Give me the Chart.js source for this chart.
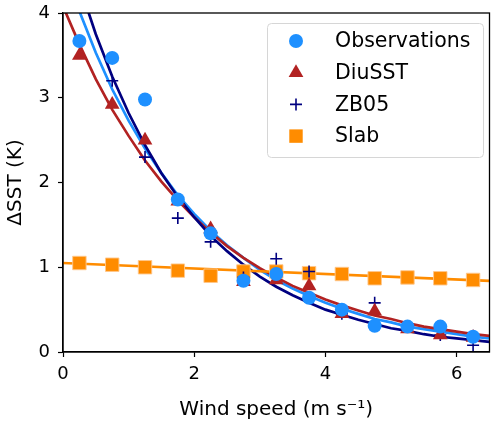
<!DOCTYPE html>
<html>
<head>
<meta charset="utf-8">
<script src="https://cdn.jsdelivr.net/npm/chart.js@4.4.1/dist/chart.umd.min.js"></script>
<style>
  html, body { margin: 0; padding: 0; background: #fff; }
  #wrap { width: 500px; height: 426px; position: relative; }
</style>
</head>
<body>
<div id="wrap"><canvas id="chartSst"></canvas></div>
<script>
  // wind speed bins (m s-1)
  const windBins = [0.25, 0.75, 1.25, 1.75, 2.25, 2.75, 3.25, 3.75, 4.25, 4.75, 5.25, 5.75, 6.25];
  const obsValues = [3.67, 3.47, 2.98, 1.80, 1.40, 0.84, 0.92, 0.64, 0.50, 0.31, 0.30, 0.30, 0.18];
  const diuValues = [3.50, 2.92, 2.50, 1.78, 1.45, 0.83, 0.85, 0.78, 0.45, 0.48, 0.27, 0.20, 0.17];
  const zbValues  = [4.40, 3.20, 2.30, 1.58, 1.30, 0.88, 1.10, 0.95, 0.45, 0.58, 0.30, 0.20, 0.08];
  const slabValues = [1.05, 1.03, 1.00, 0.96, 0.90, 0.95, 0.95, 0.93, 0.92, 0.87, 0.88, 0.87, 0.85];

  // fitted curves
  const fitX = [0, 0.25, 0.5, 0.75, 1, 1.25, 1.5, 1.75, 2, 2.25, 2.5, 2.75, 3, 3.25, 3.5, 3.75, 4, 4.25, 4.5, 4.75, 5, 5.25, 5.5, 5.75, 6, 6.25, 6.5];
  const obsFit = [4.57, 4.02, 3.53, 3.10, 2.73, 2.40, 2.11, 1.85, 1.63, 1.43, 1.26, 1.11, 0.97, 0.85, 0.75, 0.66, 0.58, 0.51, 0.45, 0.39, 0.35, 0.30, 0.27, 0.24, 0.21, 0.18, 0.16];
  const diuFit = [4.08, 3.63, 3.22, 2.86, 2.55, 2.26, 2.01, 1.79, 1.59, 1.41, 1.25, 1.11, 0.99, 0.88, 0.78, 0.70, 0.62, 0.55, 0.49, 0.43, 0.39, 0.34, 0.30, 0.27, 0.24, 0.21, 0.19];
  const zbFit = [5.00, 4.33, 3.75, 3.25, 2.82, 2.44, 2.11, 1.83, 1.59, 1.37, 1.19, 1.03, 0.89, 0.77, 0.67, 0.58, 0.50, 0.44, 0.38, 0.33, 0.28, 0.25, 0.21, 0.18, 0.16, 0.14, 0.12];
  const slabFitX = [0, 6.5];
  const slabFit = [1.05, 0.84];

  const xTicks = [0, 2, 4, 6];
  const yTicks = [0, 1, 2, 3, 4];

  const seriesNames = ["Observations", "DiuSST", "ZB05", "Slab"];
  const colObs = "#1e90ff", colDiu = "#b22222", colZb = "#000080", colSlab = "#ff8c00";

  const pts = (xs, ys) => xs.map((x, i) => ({ x: x, y: ys[i] }));

  const legendMarkers = [
    { style: "circle", color: colObs, radius: 7, border: 0 },
    { style: "triangle", color: colDiu, radius: 8.5, border: 0 },
    { style: "cross", color: colZb, radius: 6, border: 1.6 },
    { style: "rect", color: colSlab, radius: 9.5, border: 0 }
  ];

  // legend drawn inside the axes, like matplotlib
  const insideLegend = {
    id: "insideLegend",
    afterDraw(chart) {
      const ctx = chart.ctx;
      const x0 = 267, y0 = 23, w = 216, h = 134;
      ctx.save();
      ctx.fillStyle = "rgba(255,255,255,0.85)";
      ctx.strokeStyle = "#d6d6d6";
      ctx.lineWidth = 1;
      ctx.beginPath();
      ctx.roundRect(x0 + 0.5, y0 + 0.5, w, h, 4);
      ctx.fill();
      ctx.stroke();
      ctx.font = "20.5px 'DejaVu Sans'";
      ctx.textBaseline = "middle";
      seriesNames.forEach((name, i) => {
        const cy = 41 + i * 31.7;
        const m = legendMarkers[i];
        ctx.fillStyle = m.color;
        ctx.strokeStyle = m.color;
        ctx.lineWidth = m.border || 1;
        Chart.helpers.drawPoint(ctx, { pointStyle: m.style, radius: m.radius, borderWidth: m.border, rotation: 0 }, 296, cy);
        ctx.fillStyle = "#000";
        ctx.fillText(name, 335, cy + 1);
      });
      ctx.restore();
    }
  };

  const frameBox = {
    id: "frameBox",
    afterDraw(chart) {
      const a = chart.chartArea;
      const ctx = chart.ctx;
      ctx.save();
      ctx.strokeStyle = "#000";
      ctx.lineWidth = 1.3;
      ctx.strokeRect(a.left, a.top, a.right - a.left, a.bottom - a.top);
      ctx.restore();
    }
  };

  const lineSet = (xs, ys, color, order) => ({
    type: "line", data: pts(xs, ys), borderColor: color, borderWidth: 2.7,
    pointRadius: 0, fill: false, tension: 0, order: order
  });
  const markSet = (ys, color, style, radius, order, extra) => Object.assign({
    type: "scatter", data: pts(windBins, ys), pointStyle: style, pointRadius: radius,
    backgroundColor: color, borderColor: color, borderWidth: 0, order: order
  }, extra || {});

  const ctx = document.getElementById("chartSst").getContext("2d");
  new Chart(ctx, {
    data: {
      datasets: [
        markSet(obsValues, colObs, "circle", 7, 1),
        markSet(diuValues, colDiu, "triangle", 8.5, 2),
        markSet(zbValues, colZb, "cross", 6, 3, { borderWidth: 1.6 }),
        markSet(slabValues, colSlab, "rect", 9.5, 4, { borderColor: "rgba(255,200,140,0.9)", borderWidth: 1 }),
        lineSet(fitX, obsFit, colObs, 8),
        lineSet(fitX, diuFit, colDiu, 7),
        lineSet(fitX, zbFit, colZb, 6),
        lineSet(slabFitX, slabFit, colSlab, 5)
      ]
    },
    options: {
      responsive: true,
      maintainAspectRatio: false,
      animation: false,
      layout: { padding: { top: 13, right: 7, left: 0, bottom: 0 } },
      plugins: { legend: { display: false }, tooltip: { enabled: false } },
      scales: {
        x: {
          type: "linear", min: 0, max: 6.5,
          afterBuildTicks: s => { s.ticks = xTicks.map(v => ({ value: v })); },
          afterFit: s => { s.height = 74; s.paddingLeft = 0; s.paddingRight = 0; },
          grid: { display: true, drawOnChartArea: false, drawTicks: true, tickLength: 5, color: "#000", tickWidth: 1.2 },
          border: { display: true, color: "#000", width: 1.3 },
          ticks: { color: "#000", font: { family: "DejaVu Sans", size: 18 }, padding: 7, maxRotation: 0 },
          title: { display: true, text: "Wind speed (m s\u207B\u00B9)", color: "#000", font: { family: "DejaVu Sans", size: 20 }, padding: { top: 1 } }
        },
        y: {
          type: "linear", min: 0, max: 4,
          afterBuildTicks: s => { s.ticks = yTicks.map(v => ({ value: v })); },
          afterFit: s => { s.width = 63; s.paddingTop = 0; s.paddingBottom = 0; },
          grid: { display: true, drawOnChartArea: false, drawTicks: true, tickLength: 5, color: "#000", tickWidth: 1.2 },
          border: { display: true, color: "#000", width: 1.3 },
          ticks: { color: "#000", font: { family: "DejaVu Sans", size: 18 }, padding: 8 },
          title: { display: true, text: "\u0394SST (K)", color: "#000", font: { family: "DejaVu Sans", size: 20 }, padding: { bottom: 2 } }
        }
      }
    },
    plugins: [frameBox, insideLegend]
  });
</script>
</body>
</html>
